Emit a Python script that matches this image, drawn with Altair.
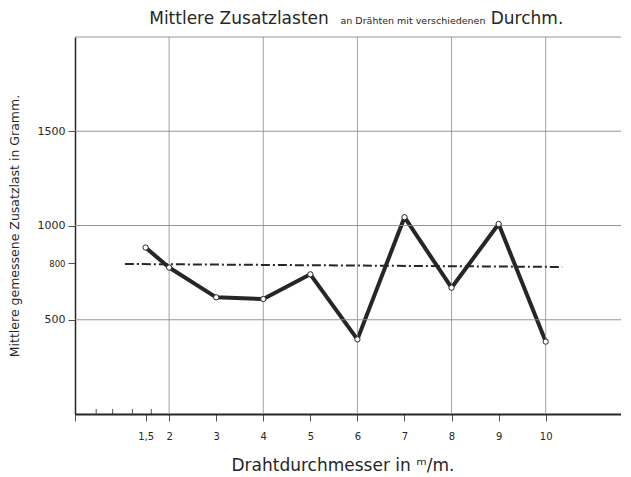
import altair as alt
import pandas as pd

# Data
diameters = [1.5, 2, 3, 4, 5, 6, 7, 8, 9, 10]
loads = [883, 777, 619, 610, 741, 396, 1044, 670, 1008, 384]

mean_x = [1.06, 10.35]
mean_y = [796, 780]

x_ticks = [0, 1.5, 2, 3, 4, 5, 6, 7, 8, 9, 10]
y_ticks = [500, 800, 1000, 1500]
v_grid = [2, 4, 6, 8, 10]
h_grid = [500, 1000, 1500, 2000]
minor_ticks = [0.45, 0.8, 1.22, 1.62]

W, H = 546, 377
XMAX = 11.6
INK = "#262626"
GRID = "#8a8a8a"
FONT = "DejaVu Sans"

xs = alt.Scale(domain=[0, XMAX], nice=False, zero=False)
ys = alt.Scale(domain=[0, 2000], nice=False, zero=False)

X_AX = alt.Axis(
    values=x_ticks,
    labelExpr="datum.value == 0 ? '' : (datum.value == 1.5 ? '1,5' : datum.label)",
    grid=False,
    domainColor=INK,
    domainWidth=2,
    tickColor=INK,
    tickSize=7,
    tickWidth=0.8,
    labelPadding=10,
    labelFontSize=10,
    labelFont=FONT,
    labelColor=INK,
    labelFlush=False,
    title=None,
)
Y_AX = alt.Axis(
    values=y_ticks,
    format="d",
    grid=False,
    domainColor=INK,
    domainWidth=1.5,
    tickColor=INK,
    tickSize=7,
    tickWidth=0.8,
    labelPadding=3,
    labelFontSize=alt.ConditionalAxisNumber(condition={"test": "datum.value == 800", "value": 8.5}, value=11),
    labelFont=FONT,
    labelColor=INK,
    title=None,
)


def X(f):
    return alt.X(f, scale=xs, axis=X_AX, title=None)


def Y(f):
    return alt.Y(f, scale=ys, axis=Y_AX, title=None)


df = pd.DataFrame({"d": diameters, "l": loads})
mean_df = pd.DataFrame({"d": mean_x, "l": mean_y})

vgrid = alt.Chart(pd.DataFrame({"d": v_grid})).mark_rule(color=GRID, strokeWidth=0.8).encode(
    x=X("d:Q"),
    y=alt.datum(0, scale=ys, axis=Y_AX),
    y2=alt.datum(2000),
)
hgrid = alt.Chart(pd.DataFrame({"l": h_grid})).mark_rule(color=GRID, strokeWidth=0.9).encode(
    y=Y("l:Q"),
    x=alt.value(0),
    x2=alt.value(W),
)
minor = alt.Chart(pd.DataFrame({"d": minor_ticks})).mark_rule(color=INK, strokeWidth=0.8).encode(
    x=X("d:Q"),
    y=alt.value(H - 5),
    y2=alt.value(H),
)

mean_line = alt.Chart(mean_df).mark_line(color=INK, strokeWidth=2, strokeDash=[9, 3, 2, 3]).encode(
    x=X("d:Q"),
    y=Y("l:Q"),
)

line = alt.Chart(df).mark_line(color=INK, strokeWidth=4, strokeJoin="round").encode(
    x=X("d:Q"),
    y=Y("l:Q"),
)
points = alt.Chart(df).mark_point(filled=True, fill="white", stroke=INK, strokeWidth=1, size=28, opacity=1).encode(
    x=X("d:Q"),
    y=Y("l:Q"),
)

one = pd.DataFrame({"a": [0]})
t1 = alt.Chart(one).mark_text(text="Mittlere Zusatzlasten", fontSize=17, font=FONT, color=INK, align="center", baseline="alphabetic").encode(
    x=alt.value(164), y=alt.value(-13))
t2 = alt.Chart(one).mark_text(text="an Drähten mit verschiedenen", fontSize=9.5, font=FONT, color=INK, align="center", baseline="alphabetic").encode(
    x=alt.value(338), y=alt.value(-13))
t3 = alt.Chart(one).mark_text(text="Durchm.", fontSize=17, font=FONT, color=INK, align="center", baseline="alphabetic").encode(
    x=alt.value(452), y=alt.value(-13))
ytitle = alt.Chart(one).mark_text(text="Mittlere gemessene Zusatzlast in Gramm.", fontSize=12.5, font=FONT, color=INK, align="center", baseline="middle", angle=270).encode(
    x=alt.value(-60), y=alt.value(189))
xtitle = alt.Chart(one).mark_text(text="Drahtdurchmesser in ᵐ/m.", fontSize=17, font=FONT, color=INK, align="center", baseline="middle").encode(
    x=alt.value(268), y=alt.value(429))

chart = alt.layer(
    line, vgrid, hgrid, minor, mean_line, points, t1, t2, t3, ytitle, xtitle
).properties(
    width=W,
    height=H,
    padding={"left": 67, "top": 29, "right": 0, "bottom": 62},
    autosize=alt.AutoSizeParams(type="none"),
    background="white",
).configure_view(stroke=None)

chart.save("out.html", embed_options={"renderer": "svg", "actions": False})
